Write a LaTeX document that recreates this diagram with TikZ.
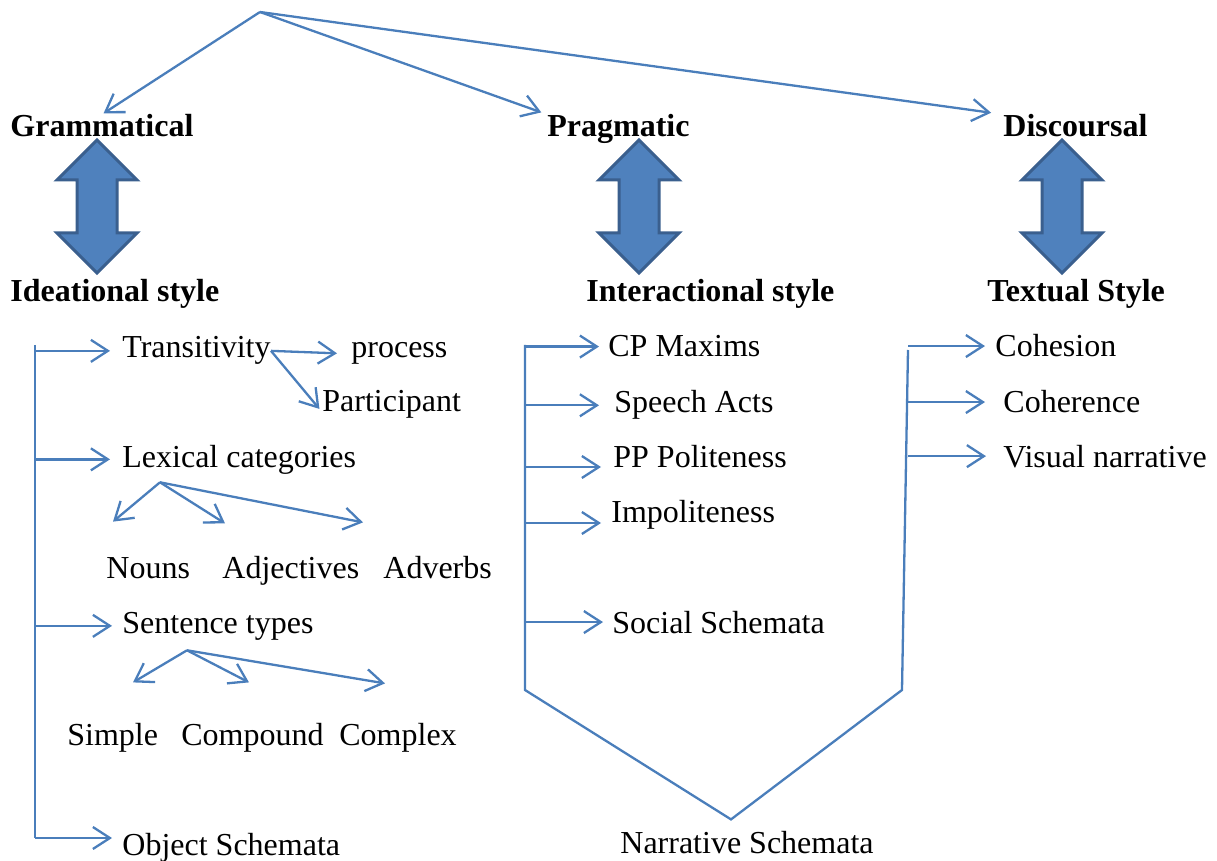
\documentclass[tikz,border=0pt]{standalone}
\usepackage{fontspec}
\setmainfont{Liberation Serif}
\usetikzlibrary{arrows.meta,calc}

\definecolor{lineblue}{HTML}{4A7EBB}
\definecolor{fillblue}{HTML}{4F81BD}
\definecolor{edgeblue}{HTML}{3A5F8E}

\tikzset{
  head/.style={anchor=base west,inner sep=0pt,font=\fontsize{16}{19}\selectfont\bfseries},
  leaf/.style={anchor=base west,inner sep=0pt,font=\fontsize{16}{19}\selectfont},
  bar/.style={draw=lineblue,line width=1.15pt},
  link/.style={bar,-{Straight Barb[length=8.5pt,width=11pt]}},
  updown/.pic={\draw[fill=fillblue,draw=edgeblue,line width=1.5pt,line join=miter]
    (0,0) -- (40,40) -- (20,40) -- (20,93) -- (40,93) -- (0,133)
    -- (-40,93) -- (-20,93) -- (-20,40) -- (-40,40) -- cycle;}
}

\begin{document}
\begin{tikzpicture}[x=0.5pt,y=-0.5pt]
  \useasboundingbox (0,0) rectangle (1217,861);
  \coordinate (root) at (260,12);
  \node[head] (gram) at (10,137) {Grammatical};
  \node[head] (prag) at (547,137) {Pragmatic};
  \node[head] (disc) at (1003,137) {Discoursal};
  \draw[link,shorten >=1pt] (root) -- (gram.north);
  \draw[link,shorten >=3pt] (root) -- (prag.north west);
  \draw[link,shorten >=6pt] (root) -- (disc.north west);

  \pic at (97,140) {updown};
  \pic at (639,140) {updown};
  \pic at (1062,140) {updown};

  \node[head] (idea) at (10,302) {Ideational style};
  \node[head] (inter) at (586,302) {Interactional style};
  \node[head] (textual) at (987,302) {Textual Style};

  % ideational
  \coordinate (ltop) at (35,345);
  \coordinate (lbot) at (35,838);
  \node[leaf] (trans) at (122,358) {Transitivity};
  \node[leaf] (proc) at (351,358) {process};
  \node[leaf] (part) at (322,412) {Participant};
  \node[leaf] (lex) at (122,467) {Lexical categories};
  \node[leaf] (nouns) at (106,578) {Nouns};
  \node[leaf] (adj) at (222,578) {Adjectives};
  \node[leaf] (adv) at (383,578) {Adverbs};
  \node[leaf] (sent) at (122,633) {Sentence types};
  \node[leaf] (simple) at (67,745) {Simple};
  \node[leaf] (compound) at (181,745) {Compound};
  \node[leaf] (complex) at (339,745) {Complex};
  \node[leaf] (obj) at (122,855) {Object Schemata};

  \draw[bar] (ltop) -- (lbot);
  \draw[link,shorten >=6pt] (ltop |- trans.west) -- (trans.west);
  \draw[link,shorten >=6pt] (ltop |- lex.west) -- (lex.west);
  \draw[link,shorten >=5pt] (ltop |- sent.west) -- (sent.west);
  \draw[link,shorten >=5pt] (lbot) -- (lbot -| obj.west);

  \draw[link,shorten >=7pt] (trans.east) -- (proc.west);
  \draw[link,shorten >=2pt] (trans.east) -- (part.base west);

  \coordinate (lexfork) at ($(lex.south west)+(38,8)$);
  \draw[link] (lexfork) -- ([shift={(7,-35)}]nouns.north west);
  \draw[link] (lexfork) -- ([shift={(3,-32)}]adj.north west);
  \draw[link] (lexfork) -- ([shift={(-20,-33)}]adv.north west);

  \coordinate (sentfork) at ($(sent.south west)+(65,10)$);
  \draw[link] (sentfork) -- ([shift={(66,-40)}]simple.north west);
  \draw[link] (sentfork) -- ([shift={(68,-40)}]compound.north west);
  \draw[link] (sentfork) -- ([shift={(46,-39)}]complex.north west);

  % interactional and textual
  \coordinate (itop) at (525,345);
  \coordinate (ibot) at (525,690);
  \coordinate (ttop) at (908,350);
  \coordinate (tbot) at (902,690);
  \node[leaf] (cp) at (608,357) {CP Maxims};
  \node[leaf] (speech) at (614,413) {Speech Acts};
  \node[leaf] (pp) at (613,467) {PP Politeness};
  \node[leaf] (impol) at (611,523) {Impoliteness};
  \node[leaf] (social) at (612,633) {Social Schemata};
  \node[leaf] (narr) at (620,853) {Narrative Schemata};
  \node[leaf] (cohes) at (995,357) {Cohesion};
  \node[leaf] (coher) at (1003,413) {Coherence};
  \node[leaf] (visual) at (1003,467) {Visual narrative};

  \draw[bar] (itop) -- (ibot) -- ([shift={(-16,-11)}]narr.north) -- (tbot) -- (ttop);
  \draw[link,shorten >=4.5pt] (itop |- cp.west) -- (cp.west);
  \draw[link,shorten >=7.5pt] (itop |- speech.west) -- (speech.west);
  \draw[link,shorten >=6pt] (itop |- pp.base west) -- (pp.base west);
  \draw[link,shorten >=5pt] (itop |- impol.base west) -- (impol.base west);
  \draw[link,shorten >=4.5pt] (itop |- social.west) -- (social.west);
  \draw[link,shorten >=5pt] (ttop |- cohes.west) -- (cohes.west);
  \draw[link,shorten >=9pt] (ttop |- coher.west) -- (coher.west);
  \draw[link,shorten >=8.5pt] (ttop |- visual.west) -- (visual.west);
\end{tikzpicture}
\end{document}
